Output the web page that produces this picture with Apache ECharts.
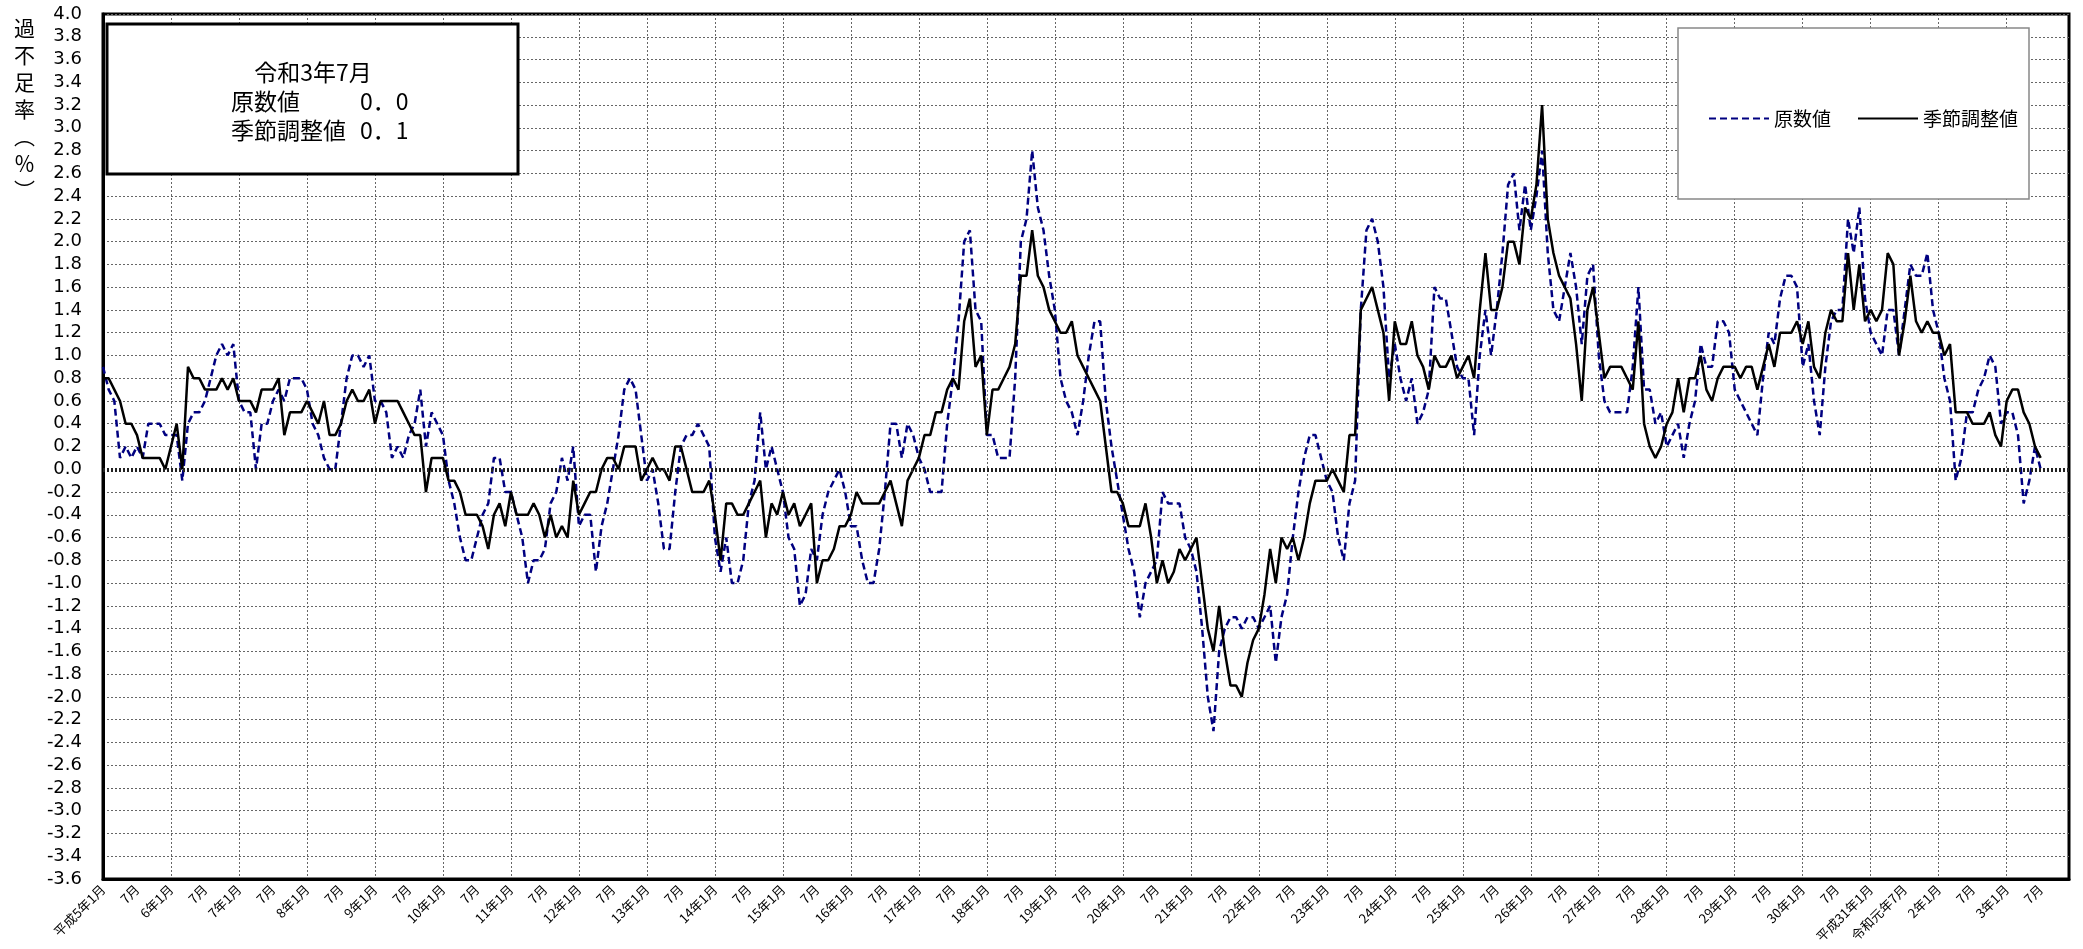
<!DOCTYPE html>
<html>
<head>
<meta charset="utf-8">
<title>過不足率</title>
<script src="https://cdn.jsdelivr.net/npm/echarts/dist/echarts.min.js"></script>
<style>
  html, body { margin: 0; padding: 0; background: #fff; }
  #chart { width: 2083px; height: 949px; }
</style>
</head>
<body>
<div id="chart"></div>
<script>
// 横軸ラベル（半年ごと）
const tickLabels = [
  '平成5年1月','7月','6年1月','7月','7年1月','7月','8年1月','7月','9年1月','7月',
  '10年1月','7月','11年1月','7月','12年1月','7月','13年1月','7月','14年1月','7月',
  '15年1月','7月','16年1月','7月','17年1月','7月','18年1月','7月','19年1月','7月',
  '20年1月','7月','21年1月','7月','22年1月','7月','23年1月','7月','24年1月','7月',
  '25年1月','7月','26年1月','7月','27年1月','7月','28年1月','7月','29年1月','7月',
  '30年1月','7月','平成31年1月','令和元年7月','2年1月','7月','3年1月','7月'
]

// 原数値（平成5年1月〜令和3年7月、月次）
const rawValues = [
  0.9,0.7,0.6,0.1,0.2,0.1,0.2,0.1,0.4,0.4,0.4,0.3,
  0.3,0.3,-0.1,0.4,0.5,0.5,0.6,0.8,1.0,1.1,1.0,1.1,
  0.6,0.5,0.5,0.0,0.4,0.4,0.6,0.7,0.6,0.8,0.8,0.8,
  0.7,0.4,0.3,0.1,0.0,0.0,0.4,0.8,1.0,1.0,0.9,1.0,
  0.6,0.6,0.5,0.1,0.2,0.1,0.3,0.4,0.7,0.2,0.5,0.4,
  0.3,-0.1,-0.3,-0.6,-0.8,-0.8,-0.6,-0.4,-0.3,0.1,0.1,-0.2,
  -0.2,-0.4,-0.6,-1.0,-0.8,-0.8,-0.7,-0.3,-0.2,0.1,-0.1,0.2,
  -0.5,-0.4,-0.4,-0.9,-0.5,-0.3,0.0,0.3,0.7,0.8,0.7,0.3,
  -0.1,0.0,-0.3,-0.7,-0.7,-0.2,0.2,0.3,0.3,0.4,0.3,0.2,
  -0.6,-0.9,-0.6,-1.0,-1.0,-0.8,-0.3,-0.1,0.5,0.0,0.2,0.0,
  -0.2,-0.6,-0.7,-1.2,-1.1,-0.7,-0.8,-0.4,-0.2,-0.1,0.0,-0.2,
  -0.5,-0.5,-0.8,-1.0,-1.0,-0.7,-0.2,0.4,0.4,0.1,0.4,0.3,
  0.1,0.0,-0.2,-0.2,-0.2,0.4,0.8,1.3,2.0,2.1,1.4,1.3,
  0.3,0.3,0.1,0.1,0.1,0.8,2.0,2.2,2.8,2.3,2.1,1.7,
  1.4,0.8,0.6,0.5,0.3,0.6,1.0,1.3,1.3,0.6,0.2,-0.1,
  -0.4,-0.7,-0.9,-1.3,-1.0,-0.9,-0.8,-0.2,-0.3,-0.3,-0.3,-0.6,
  -0.7,-0.9,-1.4,-2.0,-2.3,-1.6,-1.4,-1.3,-1.3,-1.4,-1.3,-1.3,
  -1.4,-1.3,-1.2,-1.7,-1.3,-1.1,-0.6,-0.2,0.1,0.3,0.3,0.1,
  -0.1,-0.2,-0.6,-0.8,-0.3,-0.1,1.4,2.1,2.2,2.0,1.6,0.8,
  1.1,0.8,0.6,0.8,0.4,0.5,0.7,1.6,1.5,1.5,1.2,0.9,
  0.8,0.8,0.3,1.0,1.4,1.0,1.4,1.9,2.5,2.6,2.1,2.5,
  2.1,2.4,2.8,1.9,1.4,1.3,1.6,1.9,1.6,1.1,1.7,1.8,
  1.0,0.6,0.5,0.5,0.5,0.5,0.9,1.6,0.7,0.7,0.4,0.5,
  0.2,0.3,0.4,0.1,0.4,0.6,1.1,0.9,0.9,1.3,1.3,1.2,
  0.7,0.6,0.5,0.4,0.3,0.8,1.2,1.1,1.5,1.7,1.7,1.6,
  0.9,1.1,0.6,0.3,0.9,1.3,1.4,1.4,2.2,1.9,2.3,1.5,
  1.2,1.1,1.0,1.4,1.4,1.0,1.4,1.8,1.7,1.7,1.9,1.4,
  1.2,0.8,0.6,-0.1,0.1,0.5,0.5,0.7,0.8,1.0,0.9,0.4,
  0.5,0.5,0.3,-0.3,-0.1,0.2,0.0
]

// 季節調整値
const saValues = [
  0.8,0.8,0.7,0.6,0.4,0.4,0.3,0.1,0.1,0.1,0.1,0.0,
  0.2,0.4,0.0,0.9,0.8,0.8,0.7,0.7,0.7,0.8,0.7,0.8,
  0.6,0.6,0.6,0.5,0.7,0.7,0.7,0.8,0.3,0.5,0.5,0.5,
  0.6,0.5,0.4,0.6,0.3,0.3,0.4,0.6,0.7,0.6,0.6,0.7,
  0.4,0.6,0.6,0.6,0.6,0.5,0.4,0.3,0.3,-0.2,0.1,0.1,
  0.1,-0.1,-0.1,-0.2,-0.4,-0.4,-0.4,-0.5,-0.7,-0.4,-0.3,-0.5,
  -0.2,-0.4,-0.4,-0.4,-0.3,-0.4,-0.6,-0.4,-0.6,-0.5,-0.6,-0.1,
  -0.4,-0.3,-0.2,-0.2,0.0,0.1,0.1,0.0,0.2,0.2,0.2,-0.1,
  0.0,0.1,0.0,0.0,-0.1,0.2,0.2,0.0,-0.2,-0.2,-0.2,-0.1,
  -0.4,-0.8,-0.3,-0.3,-0.4,-0.4,-0.3,-0.2,-0.1,-0.6,-0.3,-0.4,
  -0.2,-0.4,-0.3,-0.5,-0.4,-0.3,-1.0,-0.8,-0.8,-0.7,-0.5,-0.5,
  -0.4,-0.2,-0.3,-0.3,-0.3,-0.3,-0.2,-0.1,-0.3,-0.5,-0.1,0.0,
  0.1,0.3,0.3,0.5,0.5,0.7,0.8,0.7,1.3,1.5,0.9,1.0,
  0.3,0.7,0.7,0.8,0.9,1.1,1.7,1.7,2.1,1.7,1.6,1.4,
  1.3,1.2,1.2,1.3,1.0,0.9,0.8,0.7,0.6,0.2,-0.2,-0.2,
  -0.3,-0.5,-0.5,-0.5,-0.3,-0.6,-1.0,-0.8,-1.0,-0.9,-0.7,-0.8,
  -0.7,-0.6,-1.0,-1.4,-1.6,-1.2,-1.6,-1.9,-1.9,-2.0,-1.7,-1.5,
  -1.4,-1.1,-0.7,-1.0,-0.6,-0.7,-0.6,-0.8,-0.6,-0.3,-0.1,-0.1,
  -0.1,0.0,-0.1,-0.2,0.3,0.3,1.4,1.5,1.6,1.4,1.2,0.6,
  1.3,1.1,1.1,1.3,1.0,0.9,0.7,1.0,0.9,0.9,1.0,0.8,
  0.9,1.0,0.8,1.4,1.9,1.4,1.4,1.6,2.0,2.0,1.8,2.3,
  2.2,2.5,3.2,2.2,1.9,1.7,1.6,1.5,1.1,0.6,1.4,1.6,
  1.2,0.8,0.9,0.9,0.9,0.8,0.7,1.3,0.4,0.2,0.1,0.2,
  0.4,0.5,0.8,0.5,0.8,0.8,1.0,0.7,0.6,0.8,0.9,0.9,
  0.9,0.8,0.9,0.9,0.7,0.9,1.1,0.9,1.2,1.2,1.2,1.3,
  1.1,1.3,0.9,0.8,1.2,1.4,1.3,1.3,1.9,1.4,1.8,1.3,
  1.4,1.3,1.4,1.9,1.8,1.0,1.3,1.7,1.3,1.2,1.3,1.2,
  1.2,1.0,1.1,0.5,0.5,0.5,0.4,0.4,0.4,0.5,0.3,0.2,
  0.6,0.7,0.7,0.5,0.4,0.2,0.1
]

// 横軸は平成5年1月〜令和3年12月の月（348か月）
const months = []
for (let y = 1993; y <= 2021; y++) {
  for (let m = 1; m <= 12; m++) months.push(y + '/' + m)
}

const jp = '"Noto Sans CJK JP", sans-serif'
const gridLine = { color: '#666', width: 1, type: [2, 2] }
const boxFont = '23px "Noto Sans CJK JP"'

const chart = echarts.init(document.getElementById('chart'))

chart.setOption({
  animation: false,
  backgroundColor: '#fff',
  grid: {
    left: 103, right: 14, top: 14, bottom: 70,
    show: true, borderColor: '#000', borderWidth: 3
  },
  legend: {
    data: ['原数値', '季節調整値'],
    left: 1703, top: 104,
    itemWidth: 60, itemHeight: 14, itemGap: 26,
    itemStyle: { opacity: 0 },   // 凡例は線だけ
    textStyle: { fontSize: 19, color: '#000', fontFamily: jp },
    z: 6
  },
  xAxis: {
    type: 'category',
    data: months,
    boundaryGap: false,
    axisLine: { onZero: false, lineStyle: { color: '#000', width: 3 } },
    axisTick: { show: false },
    axisLabel: {
      interval: 5,   // 半年ごと
      formatter: (v, i) => tickLabels[Math.round(i / 6)],
      rotate: 45,
      margin: 8,
      fontSize: 13,
      color: '#000',
      fontFamily: jp
    },
    splitLine: {
      show: true,
      interval: 11,  // 縦の目盛線は1月だけ
      lineStyle: gridLine
    }
  },
  yAxis: {
    type: 'value',
    min: -3.6, max: 4.0, interval: 0.2,
    axisLine: { show: true, lineStyle: { color: '#000', width: 3 } },
    axisTick: { show: false },
    axisLabel: {
      formatter: (v) => v.toFixed(1),
      fontSize: 18,
      color: '#000',
      margin: 21,
      fontFamily: '"DejaVu Sans", sans-serif'
    },
    splitLine: { show: true, lineStyle: gridLine }
  },
  series: [
    {
      name: '原数値',
      type: 'line',
      data: rawValues,
      symbol: 'none',
      lineStyle: { color: '#000080', width: 2.5, type: [7, 4] },
      itemStyle: { color: '#000080' },
      markLine: {
        silent: true,
        symbol: 'none',
        label: { show: false },
        lineStyle: { color: '#222', width: 4, type: [2, 2] },
        data: [{ yAxis: 0 }]
      }
    },
    {
      name: '季節調整値',
      type: 'line',
      data: saValues,
      symbol: 'none',
      lineStyle: { color: '#000', width: 2.5 },
      itemStyle: { color: '#000' }
    }
  ],
  graphic: [
    // 縦軸タイトル
    {
      type: 'text', left: 14, top: 15, z: 5,
      style: {
        text: '過\n不\n足\n率\n︵\n％\n︶',
        font: '21px "Noto Sans CJK JP"', fill: '#000',
        lineHeight: 27, textAlign: 'center'
      }
    },
    // 最新値の枠
    {
      type: 'rect', z: 3,
      shape: { x: 107, y: 24, width: 411, height: 150 },
      style: { fill: '#fff', stroke: '#000', lineWidth: 3 }
    },
    { type: 'text', z: 4, x: 313, y: 72,
      style: { text: '令和3年7月', font: boxFont, fill: '#000', textAlign: 'center', textVerticalAlign: 'middle' } },
    { type: 'text', z: 4, x: 231, y: 101,
      style: { text: '原数値', font: boxFont, fill: '#000', textVerticalAlign: 'middle' } },
    { type: 'text', z: 4, x: 360, y: 101,
      style: { text: '0．0', font: boxFont, fill: '#000', textVerticalAlign: 'middle' } },
    { type: 'text', z: 4, x: 231, y: 130,
      style: { text: '季節調整値', font: boxFont, fill: '#000', textVerticalAlign: 'middle' } },
    { type: 'text', z: 4, x: 360, y: 130,
      style: { text: '0．1', font: boxFont, fill: '#000', textVerticalAlign: 'middle' } },
    // 凡例の枠
    {
      type: 'rect', z: 3,
      shape: { x: 1678, y: 28, width: 351, height: 171 },
      style: { fill: '#fff', stroke: '#888', lineWidth: 1.5 }
    }
  ]
})
</script>
</body>
</html>
